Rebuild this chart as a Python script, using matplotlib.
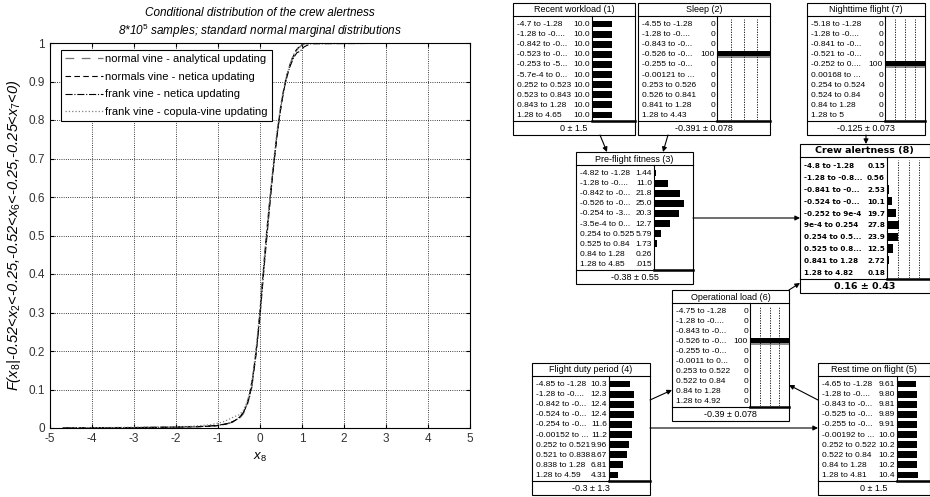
import matplotlib
matplotlib.use('Agg')
import matplotlib.pyplot as plt
from matplotlib.patches import Rectangle

plt.rcParams['font.family'] = ['Liberation Sans', 'DejaVu Sans']
plt.rcParams['mathtext.fontset'] = 'custom'
plt.rcParams['mathtext.rm'] = 'Liberation Sans'
plt.rcParams['mathtext.it'] = 'Liberation Sans:italic'
plt.rcParams['mathtext.default'] = 'it'
plt.rcParams['axes.unicode_minus'] = False

# ---- left panel: conditional cdf of x8 ----
x_analytic = [-4.7, -3.0, -2.0, -1.5, -1.0, -0.8, -0.6, -0.5, -0.4, -0.3, -0.2, -0.1,
              0.0, 0.1, 0.2, 0.3, 0.4, 0.5, 0.6, 0.7, 0.8, 0.9, 1.0, 1.2, 4.8]
F_analytic = [0.0, 0.001, 0.002, 0.003, 0.006, 0.01, 0.017, 0.024, 0.036, 0.06, 0.1, 0.19,
              0.3, 0.43, 0.55, 0.66, 0.76, 0.84, 0.9, 0.94, 0.97, 0.985, 0.995, 1.0, 1.0]

x_normal_netica = [-4.7, -3.2, -2.3, -1.6, -1.1, -0.9, -0.7, -0.55, -0.45, -0.35, -0.25, -0.15,
                   -0.05, 0.05, 0.15, 0.25, 0.35, 0.45, 0.55, 0.65, 0.75, 0.85, 0.95, 1.1, 4.6]
F_normal_netica = [0.0, 0.001, 0.002, 0.003, 0.005, 0.008, 0.014, 0.022, 0.032, 0.05, 0.085, 0.15,
                   0.24, 0.37, 0.5, 0.61, 0.71, 0.8, 0.87, 0.92, 0.955, 0.98, 0.993, 1.0, 1.0]

x_frank_netica = [-4.6, -3.0, -2.2, -1.4, -1.0, -0.8, -0.65, -0.5, -0.4, -0.3, -0.2, -0.1, 0.0,
                  0.1, 0.2, 0.3, 0.4, 0.5, 0.6, 0.7, 0.8, 0.88, 0.95, 1.05, 1.2, 4.7]
F_frank_netica = [0.0, 0.001, 0.002, 0.004, 0.007, 0.011, 0.016, 0.026, 0.04, 0.064, 0.105, 0.185, 0.29,
                  0.42, 0.54, 0.655, 0.755, 0.835, 0.895, 0.935, 0.962, 0.975, 0.978, 0.99, 0.998, 1.0]

x_frank_copula = [-4.5, -3.1, -2.4, -1.7, -1.2, -0.9, -0.75, -0.6, -0.5, -0.4, -0.3, -0.2, -0.1,
                  0.0, 0.1, 0.2, 0.3, 0.4, 0.5, 0.6, 0.7, 0.8, 0.9, 1.0, 1.2, 4.5]
F_frank_copula = [0.0, 0.002, 0.003, 0.004, 0.008, 0.015, 0.022, 0.03, 0.034, 0.045, 0.07, 0.115, 0.2,
                  0.31, 0.44, 0.56, 0.67, 0.77, 0.845, 0.9, 0.94, 0.97, 0.985, 0.995, 1.0, 1.0]

x_ticks = [-5, -4, -3, -2, -1, 0, 1, 2, 3, 4, 5]
y_ticks = [0, 0.1, 0.2, 0.3, 0.4, 0.5, 0.6, 0.7, 0.8, 0.9, 1]
y_ticklabels = ['0', '0.1', '0.2', '0.3', '0.4', '0.5', '0.6', '0.7', '0.8', '0.9', '1']

# ---- right panel: netica network ----
workload_labels = ['-4.7 to -1.28', '-1.28 to -0....', '-0.842 to -0...', '-0.523 to -0...',
                   '-0.253 to -5...', '-5.7e-4 to 0...', '0.252 to 0.523', '0.523 to 0.843',
                   '0.843 to 1.28', '1.28 to 4.65']
workload_pct = ['10.0', '10.0', '10.0', '10.0', '10.0', '10.0', '10.0', '10.0', '10.0', '10.0']

sleep_labels = ['-4.55 to -1.28', '-1.28 to -0....', '-0.843 to -0...', '-0.526 to -0...',
                '-0.255 to -0...', '-0.00121 to ...', '0.253 to 0.526', '0.526 to 0.841',
                '0.841 to 1.28', '1.28 to 4.43']
sleep_pct = ['0', '0', '0', '100', '0', '0', '0', '0', '0', '0']

night_labels = ['-5.18 to -1.28', '-1.28 to -0....', '-0.841 to -0...', '-0.521 to -0...',
                '-0.252 to 0....', '0.00168 to ...', '0.254 to 0.524', '0.524 to 0.84',
                '0.84 to 1.28', '1.28 to 5']
night_pct = ['0', '0', '0', '0', '100', '0', '0', '0', '0', '0']

fitness_labels = ['-4.82 to -1.28', '-1.28 to -0....', '-0.842 to -0...', '-0.526 to -0...',
                  '-0.254 to -3...', '-3.5e-4 to 0...', '0.254 to 0.525', '0.525 to 0.84',
                  '0.84 to 1.28', '1.28 to 4.85']
fitness_pct = ['1.44', '11.0', '21.8', '25.0', '20.3', '12.7', '5.79', '1.73', '0.26', '.015']

alert_labels = ['-4.8 to -1.28', '-1.28 to -0.8...', '-0.841 to -0...', '-0.524 to -0...',
                '-0.252 to 9e-4', '9e-4 to 0.254', '0.254 to 0.5...', '0.525 to 0.8...',
                '0.841 to 1.28', '1.28 to 4.82']
alert_pct = ['0.15', '0.56', '2.53', '10.1', '19.7', '27.8', '23.9', '12.5', '2.72', '0.18']

opload_labels = ['-4.75 to -1.28', '-1.28 to -0....', '-0.843 to -0...', '-0.526 to -0...',
                 '-0.255 to -0...', '-0.0011 to 0...', '0.253 to 0.522', '0.522 to 0.84',
                 '0.84 to 1.28', '1.28 to 4.92']
opload_pct = ['0', '0', '0', '100', '0', '0', '0', '0', '0', '0']

duty_labels = ['-4.85 to -1.28', '-1.28 to -0....', '-0.842 to -0...', '-0.524 to -0...',
               '-0.254 to -0...', '-0.00152 to ...', '0.252 to 0.521', '0.521 to 0.838',
               '0.838 to 1.28', '1.28 to 4.59']
duty_pct = ['10.3', '12.3', '12.4', '12.4', '11.6', '11.2', '9.96', '8.67', '6.81', '4.31']

rest_labels = ['-4.65 to -1.28', '-1.28 to -0....', '-0.843 to -0...', '-0.525 to -0...',
               '-0.255 to -0...', '-0.00192 to ...', '0.252 to 0.522', '0.522 to 0.84',
               '0.84 to 1.28', '1.28 to 4.81']
rest_pct = ['9.61', '9.80', '9.81', '9.89', '9.91', '10.0', '10.2', '10.2', '10.2', '10.4']

W, H = 930, 497
fig = plt.figure(figsize=(W / 100, H / 100), dpi=100)

# left plot
ax = fig.add_axes([50 / W, 69 / H, 420 / W, 385 / H])
ax.plot(x_analytic, F_analytic, color='0.45', ls=(0, (7, 6)), lw=0.9,
        label='normal vine - analytical updating')
ax.plot(x_normal_netica, F_normal_netica, color='black', ls=(0, (5, 3)), lw=0.8,
        label='normals vine - netica updating')
ax.plot(x_frank_netica, F_frank_netica, color='black', ls='-.', lw=0.8,
        label='frank vine - netica updating')
ax.plot(x_frank_copula, F_frank_copula, color='0.5', ls=':', lw=0.9,
        label='frank vine - copula-vine updating')
ax.set_xlim(-5, 5)
ax.set_ylim(0, 1)
ax.set_xticks(x_ticks)
ax.set_yticks(y_ticks)
ax.set_yticklabels(y_ticklabels)
ax.tick_params(direction='in', length=3, labelsize=8.5, labelcolor='#333333', top=True, right=True)
ax.grid(True, color='black', ls=':', lw=0.6)
ax.set_title('Conditional distribution of the crew alertness\n'
             '8*10$^5$ samples; standard normal marginal distributions',
             fontstyle='italic', fontsize=8.5, pad=6)
ax.set_xlabel('x$_8$', fontstyle='italic', fontsize=9.5, labelpad=4)
ax.set_ylabel('F(x$_8$|-0.52<x$_2$<-0.25,-0.52<x$_6$<-0.25,-0.25<x$_7$<0)',
              fontstyle='italic', fontsize=10.5, labelpad=4)
leg = ax.legend(loc='upper left', bbox_to_anchor=(0.026, 0.982), borderaxespad=0,
                fontsize=8, fancybox=False, edgecolor='black', framealpha=1,
                handlelength=3.4, labelspacing=0.68, borderpad=0.4, handletextpad=0.15)
leg.get_frame().set_linewidth(0.8)

# network overlay in pixel coordinates
net = fig.add_axes([0, 0, 1, 1])
net.set_xlim(0, W)
net.set_ylim(H, 0)
net.axis('off')


def draw_node(title, labels, pct, footer, box, sep, bar_max, bold=False):
    x0, x1, y0, y1 = box
    hb = y0 + 13
    ft = y1 - 14
    net.add_patch(Rectangle((x0, y0), x1 - x0, y1 - y0, fc='white', ec='black', lw=0.8))
    net.plot([x0, x1], [hb, hb], color='black', lw=0.8)
    net.plot([x0, x1], [ft, ft], color='black', lw=0.8)
    net.plot([sep, sep], [hb, ft], color='black', lw=0.8)
    net.plot([sep, x1], [ft - 0.5, ft - 0.5], color='black', lw=1.8)
    if bold:
        fam, wt, fs, tfs = 'DejaVu Sans', 'bold', 5.2, 6.8
    else:
        fam, wt, fs, tfs = 'Liberation Sans', 'normal', 6, 6.5
    net.text((x0 + x1) / 2, (y0 + hb) / 2 + 0.5, title, ha='center', va='center',
             fontsize=tfs, family=fam, weight=wt)
    net.text((x0 + x1) / 2, (ft + y1) / 2 + 0.5, footer, ha='center', va='center',
             fontsize=tfs, family=fam, weight=wt)
    top = hb + 3
    bot = ft - 1
    n = len(labels)
    rh = (bot - top) / n
    for i, (lab, val) in enumerate(zip(labels, pct)):
        yc = top + (i + 0.5) * rh + 0.5
        net.text(x0 + 4, yc, lab, ha='left', va='center', fontsize=fs, family=fam, weight=wt)
        net.text(sep - 2, yc, val, ha='right', va='center', fontsize=fs, family=fam, weight=wt)
    bax = fig.add_axes([(sep + 0.5) / W, 1 - bot / H, (x1 - sep - 0.5) / W, (bot - top) / H])
    vals = [float(v) for v in pct]
    bax.barh(range(n), vals, height=0.68, color='black')
    for i, v in enumerate(vals):
        if v >= 100:
            bax.barh(i + 0.27, v, height=0.2, color='#8a8a8a')
    if bar_max == 100:
        for g in (25, 50, 75):
            bax.axvline(g, color='black', ls=(0, (1.5, 1.5)), lw=0.6)
    bax.set_xlim(0, bar_max)
    bax.set_ylim(n - 0.5, -0.5)
    bax.axis('off')


draw_node('Recent workload (1)', workload_labels, workload_pct, '0 \u00b1 1.5',
          (513, 635, 3, 135), 592, 21.5)
draw_node('Sleep (2)', sleep_labels, sleep_pct, '-0.391 \u00b1 0.078',
          (638, 770, 3, 135), 717, 100)
draw_node('Nighttime flight (7)', night_labels, night_pct, '-0.125 \u00b1 0.073',
          (807, 925, 3, 135), 885, 100)
draw_node('Pre-flight fitness (3)', fitness_labels, fitness_pct, '-0.38 \u00b1 0.55',
          (576, 693, 152, 284), 654, 32.5)
draw_node('Crew alertness (8)', alert_labels, alert_pct, '0.16 \u00b1 0.43',
          (800, 929.5, 144, 293), 887, 100, bold=True)
draw_node('Operational load (6)', opload_labels, opload_pct, '-0.39 \u00b1 0.078',
          (672, 789, 290, 421), 750, 100)
draw_node('Flight duty period (4)', duty_labels, duty_pct, '-0.3 \u00b1 1.3',
          (532, 650, 363, 495), 609, 20.5)
draw_node('Rest time on flight (5)', rest_labels, rest_pct, '0 \u00b1 1.5',
          (818, 929.5, 363, 495), 897, 16.5)

links = [((600, 135), (607, 152)), ((668, 135), (663, 152)), ((866, 135), (866, 144)),
         ((693, 218), (800, 218)), ((789, 290), (800, 283)), ((650, 400), (672, 390)),
         ((818, 400), (789, 385)), ((650, 428), (818, 428))]
for a, b in links:
    net.annotate('', xy=b, xytext=a,
                 arrowprops=dict(arrowstyle='-|>', color='black', lw=0.8,
                                 mutation_scale=7, shrinkA=0, shrinkB=0))

fig.savefig('out.png', dpi=100)
